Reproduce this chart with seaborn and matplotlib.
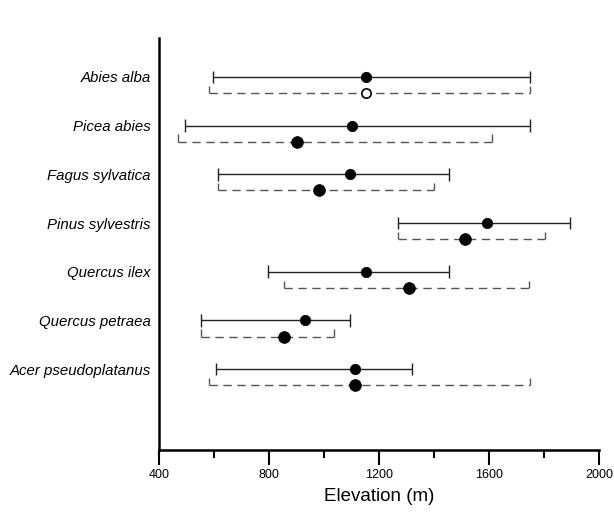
import numpy as np
import pandas as pd
import matplotlib
matplotlib.use("Agg")
import matplotlib.pyplot as plt
import seaborn as sns

# species (top to bottom)
species = ["Abies alba", "Picea abies", "Fagus sylvatica", "Pinus sylvestris",
           "Quercus ilex", "Quercus petraea", "Acer pseudoplatanus"]

# solid ranges (min, mean, max)
solid_min = [596, 496, 616, 1270, 795, 554, 607]
solid_mean = [1153, 1102, 1093, 1594, 1153, 931, 1112]
solid_max = [1750, 1750, 1456, 1895, 1456, 1095, 1320]

# dashed ranges (min, mean, max)
dash_min = [582, 470, 616, 1270, 856, 554, 582]
dash_mean = [1153, 902, 983, 1513, 1309, 856, 1112]
dash_max = [1750, 1611, 1401, 1805, 1745, 1036, 1750]
dash_open = [True, False, False, False, False, False, False]

sns.set_style("ticks")
plt.rcParams['font.family'] = ['Liberation Sans', 'DejaVu Sans']
plt.rcParams.update({"text.color": "black", "axes.labelcolor": "black",
                     "xtick.color": "black", "ytick.color": "black"})

pos = np.arange(len(species))
off = 0.33

solid = pd.DataFrame({"species": species, "y": pos, "lo": solid_min,
                      "mean": solid_mean, "hi": solid_max})
dashed = pd.DataFrame({"species": species, "y": pos + off, "lo": dash_min,
                       "mean": dash_mean, "hi": dash_max, "open": dash_open})

fig = plt.figure(figsize=(6.14, 5.17), dpi=100)
ax = fig.add_axes([159 / 614, 67 / 517, 440 / 614, 412 / 517])

# solid ranges
ax.hlines(solid["y"], solid["lo"], solid["hi"], color="#222222", lw=1.0)
cap = 0.13
ax.vlines(solid["lo"], solid["y"] - cap, solid["y"] + cap, color="#222222", lw=1.0)
ax.vlines(solid["hi"], solid["y"] - cap, solid["y"] + cap, color="#222222", lw=1.0)

# dashed ranges (caps pointing up)
ax.hlines(dashed["y"], dashed["lo"], dashed["hi"], color="#555555", lw=1.0,
          linestyles=(0, (6, 4)))
ax.vlines(dashed["lo"], dashed["y"] - 0.15, dashed["y"], color="#555555", lw=1.0)
ax.vlines(dashed["hi"], dashed["y"] - 0.15, dashed["y"], color="#555555", lw=1.0)

# means
sns.scatterplot(data=solid, x="mean", y="y", color="black", s=55,
                edgecolor="black", zorder=3, ax=ax, legend=False)
filled = dashed[~dashed["open"]]
hollow = dashed[dashed["open"]]
sns.scatterplot(data=filled, x="mean", y="y", color="black", s=70,
                edgecolor="black", zorder=3, ax=ax, legend=False)
sns.scatterplot(data=hollow, x="mean", y="y", facecolor="white", s=45,
                edgecolor="black", linewidth=1.2, zorder=3, ax=ax, legend=False)

ax.set_xlim(400, 2000)
ax.set_ylim(len(species) - 1 + 1.66, -0.80)
ax.set_xticks([400, 800, 1200, 1600, 2000])
ax.set_xticks([600, 1000, 1400, 1800], minor=True)
ax.set_yticks(pos)
ax.set_yticklabels(species, fontstyle="italic", fontsize=10.8, color="black")
ax.tick_params(axis="y", length=0, pad=6, labelcolor="black")
ax.tick_params(axis="x", which="major", length=11, width=1.5, labelsize=9,
               color="black", labelcolor="black", pad=3)
ax.tick_params(axis="x", which="minor", length=5.5, width=1.5, color="black")
ax.set_xlabel("Elevation (m)", fontsize=13.5, labelpad=5, color="black")
ax.set_ylabel("")

sns.despine(ax=ax)
for s in ["left", "bottom"]:
    ax.spines[s].set_linewidth(1.8)
    ax.spines[s].set_color("black")

fig.savefig("out.png", dpi=100)
